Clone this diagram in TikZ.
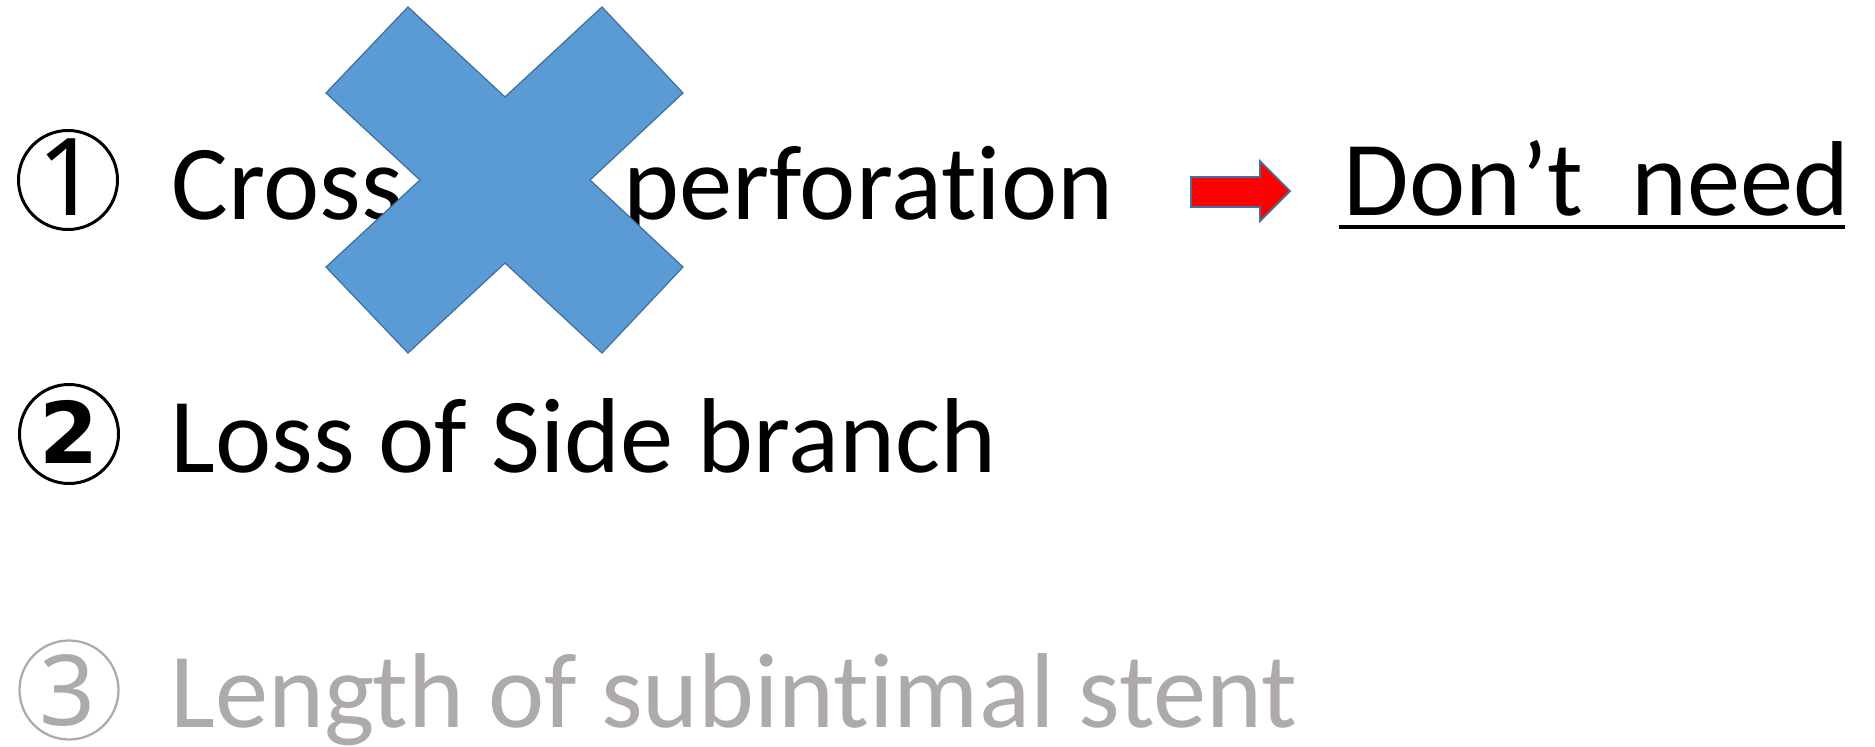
\documentclass[tikz,border=0pt]{standalone}
\usepackage{fontspec}
\setmainfont{Carlito}[Ligatures=NoCommon]
\newfontfamily\digitfont{Noto Sans}
\newfontfamily\digitboldfont{DejaVu Sans}
\definecolor{crossfill}{HTML}{5B9BD5}
\definecolor{crossedge}{HTML}{41719C}
\definecolor{dimgraytext}{HTML}{AEAAAA}
\tikzset{
  itemtext/.style={inner sep=0pt, anchor=base west, font=\fontsize{42.6}{50}\selectfont},
  ring/.style={circle, draw, line width=1.2pt, minimum size=39.6pt, inner sep=0pt},
  digit/.style={inner sep=0pt, anchor=base, font=\digitfont\fontsize{39.2}{44}\selectfont},
  crossmark/.style={fill=crossfill, draw=crossedge, line width=0.5pt, line join=miter},
  blockarrow/.style={fill=red, draw=crossedge, line width=0.7pt, line join=miter}
}
\begin{document}
\begin{tikzpicture}[x=0.4pt, y=-0.4pt]
\fill[white] (0,0) rectangle (1875,747);
\useasboundingbox (0,0) rectangle (1875,747);

% item 1
\node[ring] (r1) at (68,180) {};
\node[digit, font=\digitfont\fontsize{43}{48}\selectfont] (d1) at (68,215) {1};
\node[itemtext] (cross) at (171,219) {Cross};
\node[itemtext] (perf) at (623,219) {perforation};

% item 2
\node[ring] (r2) at (69,434) {};
\node[digit, font=\digitboldfont\bfseries\fontsize{34}{40}\selectfont] (d2) at (69,463) {2};
\node[itemtext] (loss) at (170,472) {Loss of Side branch};

% item 3 (greyed out)
\node[ring, draw=dimgraytext, line width=0.9pt] (r3) at (69,690) {};
\node[digit, text=dimgraytext] (d3) at (68,725) {3};
\node[itemtext, text=dimgraytext] (len) at (170,727) {Length of subintimal stent};

% blue cross over item 1
\draw[crossmark] (408,7) -- (505,97) -- (602,7) -- (683,93) -- (590,180)
  -- (683,267) -- (602,353) -- (505,263) -- (408,353) -- (326,267)
  -- (420,180) -- (326,93) -- cycle;

% red block arrow
\draw[blockarrow] (1191,177) -- (1260,177) -- (1260,161) -- (1290,191)
  -- (1260,221) -- (1260,207) -- (1191,207) -- cycle;

% conclusion, underlined
\node[itemtext] (dont) at (1343,215) {Don’t\ \ need};
\coordinate (ulA) at (1339,227);
\coordinate (ulB) at (1845,227);
\draw[line width=1.6pt] (ulA) -- (ulB);
\end{tikzpicture}
\end{document}
